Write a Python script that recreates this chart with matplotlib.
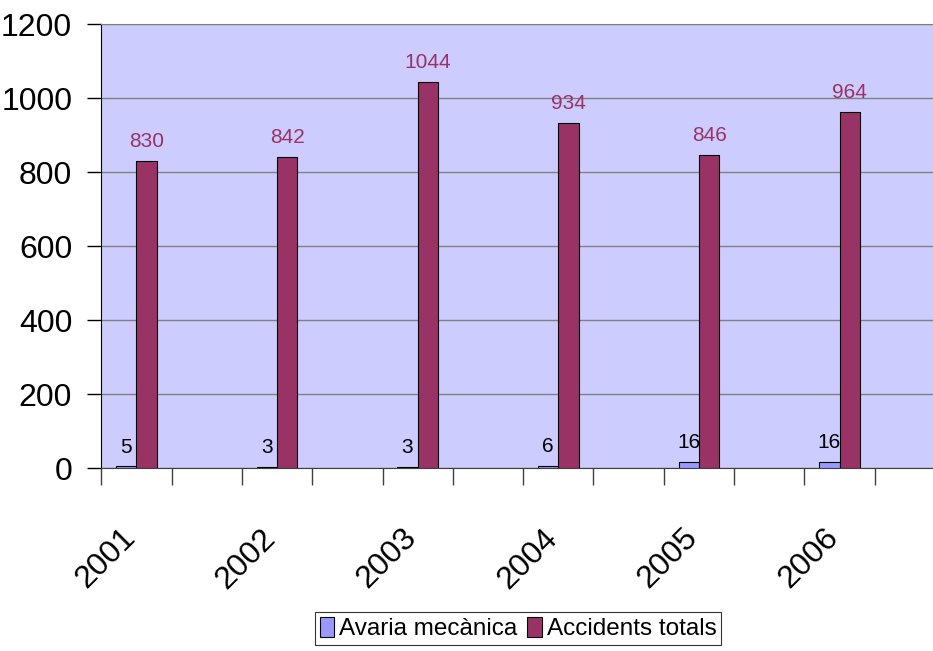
import matplotlib
matplotlib.use("Agg")
import matplotlib.pyplot as plt
from matplotlib.patches import Patch
from matplotlib import font_manager

years = ["2001", "2002", "2003", "2004", "2005", "2006"]
avaria = [5, 3, 3, 6, 16, 16]
accidents = [830, 842, 1044, 934, 846, 964]
series_names = ["Avaria mecànica", "Accidents totals"]
yticks = [0, 200, 400, 600, 800, 1000, 1200]

installed = {f.name for f in font_manager.fontManager.ttflist}
narrow = "Liberation Sans Narrow" in installed
plt.rcParams['font.family'] = (["Liberation Sans Narrow"] if narrow else []) + ["Liberation Sans", "DejaVu Sans"]
k = 1.18 if narrow else 1.0
FS_AX = 23 * k
FS_LBL = 15 * k
FS_LEG = 17.5 * k

c_blue = "#9999FF"
c_maroon = "#993366"
c_bg = "#CCCCFF"

fig = plt.figure(figsize=(9.33, 6.51), dpi=100)
ax = fig.add_axes([101.3/933, 1-468.3/651, (945-101.3)/933, (468.3-24.3)/651])
ax.set_facecolor(c_bg)

ncat = 2 * len(years)
bw = 0.29
centers = [2*i + 0.5 for i in range(len(years))]
xb = [c - bw/2 for c in centers]
xm = [c + bw/2 for c in centers]
ax.bar(xb, avaria, width=bw, color=c_blue, edgecolor="black", linewidth=0.8, zorder=3)
ax.bar(xm, accidents, width=bw, color=c_maroon, edgecolor="black", linewidth=0.8, zorder=3)

for x, v in zip(xb, avaria):
    ax.annotate(str(v), (x, v), xytext=(0, 10), textcoords="offset points",
                ha="center", va="baseline", fontsize=FS_LBL, color="black")
for x, v in zip(xm, accidents):
    ax.annotate(str(v), (x, v), xytext=(0, 10), textcoords="offset points",
                ha="center", va="baseline", fontsize=FS_LBL, color=c_maroon)

ax.set_xlim(0, ncat)
ax.set_ylim(0, 1200)
ax.set_yticks(yticks)
ax.set_yticklabels([str(t) for t in yticks], fontsize=FS_AX)
ax.tick_params(axis="y", direction="out", length=10, width=1, pad=11, color="black")
ax.yaxis.grid(True, color="#808080", linewidth=1, zorder=0)
ax.set_axisbelow(True)

ax.set_xticks(range(ncat + 1))
ax.set_xticklabels([])
ax.tick_params(axis="x", which="major", direction="out", length=12, width=1, color="#404040")
ax.set_xticks(centers, minor=True)
ax.set_xticklabels(years, minor=True, fontsize=FS_AX, rotation=45, ha="right",
                   va="baseline", rotation_mode="anchor")
ax.tick_params(axis="x", which="minor", length=0, pad=51)

ax.spines["left"].set_color("black")
ax.spines["bottom"].set_color("#404040")
ax.spines["top"].set_color("#808080")
ax.spines["right"].set_visible(False)

handles = [Patch(facecolor=c_blue, edgecolor="black", linewidth=0.8),
           Patch(facecolor=c_maroon, edgecolor="black", linewidth=0.8)]
leg = fig.legend(handles, series_names, loc="upper left",
                 bbox_to_anchor=(315/933, 1-612/651), fontsize=FS_LEG, frameon=True,
                 fancybox=False, ncol=2, handlelength=0.6, handleheight=0.9,
                 handletextpad=0.2, columnspacing=0.4, borderpad=0.2, borderaxespad=0)
leg.get_frame().set_edgecolor("black")
leg.get_frame().set_linewidth(0.8)

fig.savefig("out.png", dpi=100)
